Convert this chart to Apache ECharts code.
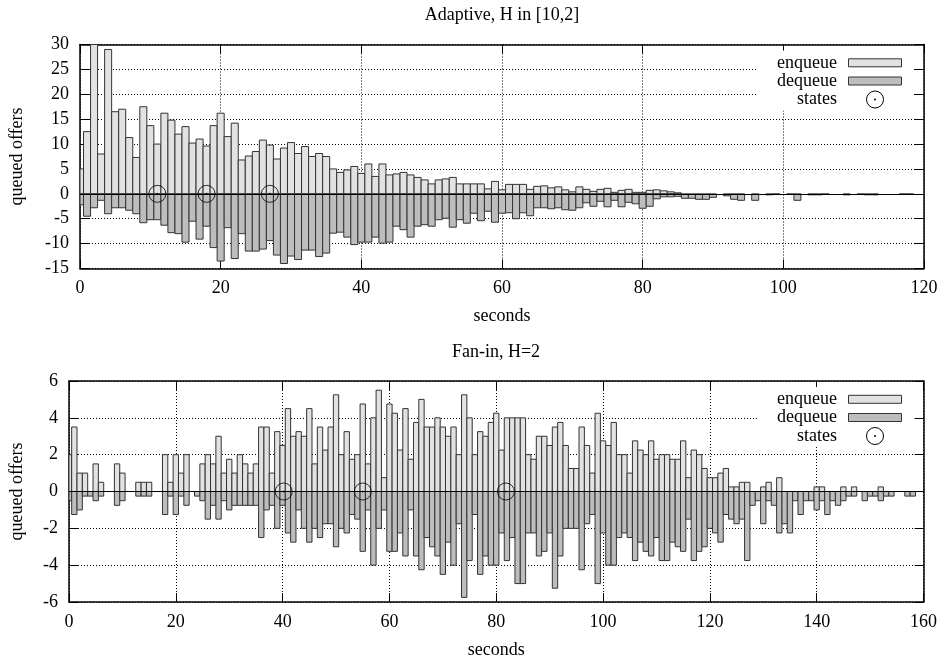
<!DOCTYPE html>
<html>
<head>
<meta charset="utf-8">
<script src="https://cdn.jsdelivr.net/npm/echarts@6/dist/echarts.min.js"></script>
<style>html,body{margin:0;padding:0;background:#fff}#c{width:942px;height:660px}</style>
</head>
<body>
<div id="c"></div>
<script>
// ---- Top chart: Adaptive, H in [10,2] (index = second) ----
const topEnqueue = [5.0,12.5,30,8.0,29.0,16.5,17.0,11.3,7.3,17.5,13.7,10.0,16.2,14.8,12.0,13.5,10.2,11.0,9.6,13.7,
  16.2,11.5,14.2,6.8,7.6,8.5,10.8,9.8,7.0,9.2,10.3,8.1,9.5,7.5,8.1,7.5,5.0,4.3,4.8,5.5,
  4.1,6.0,3.5,6.0,3.8,4.0,4.3,3.8,3.3,2.8,2.0,2.8,3.0,3.3,2.0,2.0,2.0,2.0,1.0,2.5,
  0.8,1.9,1.9,1.9,0.9,1.5,1.6,1.2,1.4,0.8,0.4,1.4,0.9,0.5,0.9,1.1,0.3,0.7,0.9,0.3,
  0.3,0.7,0.8,0.6,0.4,0.2];
const topDequeue = [-2.2,-4.5,-2.8,-1.3,-4.0,-2.8,-2.8,-3.3,-4.0,-5.8,-5.2,-5.2,-6.3,-7.8,-8.0,-9.7,-5.5,-9.1,-6.5,-10.8,
  -13.5,-6.8,-13.0,-8.0,-11.5,-11.5,-11.1,-9.4,-12.3,-14.0,-12.5,-13.2,-11.3,-11.3,-12.6,-11.9,-7.9,-7.7,-8.7,-10.2,
  -9.7,-9.7,-8.7,-9.9,-9.7,-6.5,-7.2,-8.7,-6.5,-6.2,-6.5,-5.2,-4.9,-6.7,-5.2,-5.9,-3.9,-5.4,-3.5,-5.7,
  -3.9,-3.8,-5.0,-3.8,-4.4,-2.8,-2.8,-3.0,-2.8,-3.2,-3.3,-2.8,-1.8,-2.5,-1.5,-2.6,-1.3,-2.6,-1.7,-2.0,
  -2.9,-2.5,-1.0,-0.6,-0.6,-0.5,-0.9,-0.9,-1.1,-1.1,-0.7,null,-0.4,-1.1,-1.3,null,-1.3,null,-0.2,-0.1,
  null,-0.1,-1.3,null,-0.2,-0.2,-0.1,null,null,-0.2,null,-0.1,-0.2,-0.2,null,null,null,-0.1,-0.1];
const topStates = [11, 18, 27];

// ---- Bottom chart: Fan-in, H=2 (index = second) ----
const botEnqueue = [2.0,3.5,1.0,1.0,null,1.5,0.5,null,null,1.5,1.0,null,null,0.5,0.5,0.5,null,null,2.0,0.5,
  2.0,1.0,2.0,null,0.0,1.5,2.0,1.5,3.0,1.0,1.75,1.0,2.0,1.5,1.0,1.5,3.5,3.5,1.0,3.25,
  2.5,4.5,3.0,3.25,3.0,4.5,1.5,3.5,2.25,3.5,5.25,2.0,3.25,1.75,2.0,4.75,1.5,4.0,5.5,0.75,
  4.75,4.25,2.25,4.5,1.75,3.75,5.0,3.5,3.5,4.0,3.5,3.0,3.5,2.0,5.25,4.0,2.0,3.25,3.0,3.75,
  4.25,2.25,4.0,4.0,4.0,4.0,2.0,1.75,3.0,3.0,2.5,3.5,3.75,2.5,1.25,1.25,3.5,2.5,1.0,4.25,
  2.75,2.5,3.75,2.0,2.0,1.0,2.75,2.25,2.0,2.75,1.75,2.0,2.0,1.75,1.75,2.75,0.75,2.25,2.0,1.25,
  0.75,0.75,1.0,1.25,0.25,0.25,0.5,0.5,null,null,0.25,0.5,null,0.75,null,null,null,null,null,null,
  0.25,0.25,null,null,null,0.25,null,0.25,null,null,null,null,0.25];
const botDequeue = [-0.5,-1.25,-1.0,-0.25,-0.25,-0.5,-0.25,null,null,-0.75,-0.5,null,null,-0.25,-0.25,-0.25,null,null,-1.25,-0.25,
  -1.25,-0.25,-0.75,null,-0.25,-0.5,-1.5,-0.75,-1.5,-0.5,-1.0,-0.75,-0.75,-0.75,-0.75,-0.75,-2.5,-1.0,-0.75,-2.0,
  -0.75,-2.25,-2.75,-1.0,-2.0,-2.75,-2.0,-2.5,-1.75,-1.75,-3.0,-2.0,-2.25,-1.25,-1.5,-3.25,-1.0,-4.0,-2.0,-1.0,
  -3.25,-3.25,-2.25,-3.5,-1.0,-3.5,-4.25,-2.5,-3.0,-3.5,-4.5,-2.75,-4.0,-1.75,-5.75,-3.75,-1.25,-4.5,-3.5,-4.0,
  -4.0,-2.25,-3.75,-2.5,-5.0,-5.0,-2.25,-2.25,-3.5,-3.25,-2.25,-5.25,-3.5,-2.0,-2.0,-2.0,-4.25,-1.75,-1.25,-5.0,
  -2.25,-4.0,-4.0,-2.5,-2.25,-2.5,-3.75,-2.75,-3.25,-3.5,-2.5,-3.75,-3.75,-2.75,-3.0,-3.25,-1.5,-3.75,-3.25,-3.0,
  -2.0,-2.25,-2.75,-1.25,-1.5,-1.75,-1.5,-3.75,-0.75,-0.5,-1.75,-0.5,-0.75,-2.25,-1.75,-2.25,-0.5,-1.25,-0.5,-0.5,
  -1.0,-0.5,-1.25,-0.5,-0.75,-0.5,-0.25,-0.25,null,-0.5,-0.25,-0.25,-0.5,-0.25,-0.25,null,null,-0.25,-0.25];
const botStates = [40.2, 55, 81.8];

const seriesNames = ['enqueue', 'dequeue', 'states'];
const titles = ['Adaptive, H in [10,2]', 'Fan-in, H=2'];
const xName = 'seconds';
const yName = 'queued offers';

// ---- helpers ----
const FONT = 'Liberation Serif, Times New Roman, serif';
const toPairs = arr => arr.map((v, i) => [i, v]).filter(p => p[1] !== null);
const txt = {fontFamily: FONT, fontSize: 18, color: '#000'};
const FILL_ENQ = '#e2e2e2', FILL_DEQ = '#bdbdbd', EDGE = '#333';

const G = [
  {left: 79.5, top: 44.5, width: 844.5, height: 224, xmax: 120, ymin: -15, ymax: 30, yint: 5, nameGap: 54},
  {left: 68.5, top: 381, width: 855, height: 224, xmax: 160, ymin: -6, ymax: 6, yint: 2, nameGap: 43}
];

// box of width 1 (one second) centred on x, from 0 to the value
function boxRenderer(fill) {
  return function (params, api) {
    const x = api.value(0), v = api.value(1);
    const a = api.coord([x - 0.5, 0]);
    const b = api.coord([x + 0.5, v]);
    const cs = params.coordSys;
    const r = echarts.graphic.clipRectByRect(
      {x: a[0], y: Math.min(a[1], b[1]), width: b[0] - a[0], height: Math.max(Math.abs(b[1] - a[1]), 0.01)},
      {x: cs.x, y: cs.y, width: cs.width, height: cs.height});
    if (!r) return null;
    return {type: 'rect', shape: r, style: {fill: fill, stroke: EDGE, lineWidth: 1}};
  };
}

const xAxes = [], yAxes = [], series = [], graphics = [];
const tick = {show: true, inside: true, length: 9, lineStyle: {color: '#000', width: 1}};
const frameLine = {show: true, onZero: false, lineStyle: {color: '#000', width: 1.5}};
const grid = {show: true, type: [1, 2], color: '#000', width: 1};

G.forEach((g, k) => {
  xAxes.push({gridIndex: k, type: 'value', min: 0, max: g.xmax, interval: 20, position: 'bottom',
    axisLine: frameLine, axisTick: tick,
    axisLabel: Object.assign({margin: 11}, txt),
    splitLine: {show: true, lineStyle: grid},
    name: xName, nameLocation: 'middle', nameGap: 39, nameTextStyle: txt});
  xAxes.push({gridIndex: k, type: 'value', min: 0, max: g.xmax, interval: 20, position: 'top',
    axisLine: frameLine, axisTick: tick, axisLabel: {show: false}, splitLine: {show: false}});
  yAxes.push({gridIndex: k, type: 'value', min: g.ymin, max: g.ymax, interval: g.yint, position: 'left',
    axisLine: frameLine, axisTick: tick,
    axisLabel: Object.assign({margin: 11}, txt),
    splitLine: {show: true, lineStyle: grid},
    name: yName, nameLocation: 'middle', nameGap: g.nameGap, nameRotate: 90, nameTextStyle: txt});
  yAxes.push({gridIndex: k, type: 'value', min: g.ymin, max: g.ymax, interval: g.yint, position: 'right',
    axisLine: frameLine, axisTick: tick, axisLabel: {show: false}, splitLine: {show: false}});

  const enq = k === 0 ? topEnqueue : botEnqueue;
  const deq = k === 0 ? topDequeue : botDequeue;
  const st = k === 0 ? topStates : botStates;
  const xi = k * 2, yi = k * 2;
  series.push({type: 'custom', name: seriesNames[0], xAxisIndex: xi, yAxisIndex: yi, z: 2,
    data: toPairs(enq), encode: {x: 0, y: 1}, renderItem: boxRenderer(FILL_ENQ),
    itemStyle: {color: FILL_ENQ}});
  series.push({type: 'custom', name: seriesNames[1], xAxisIndex: xi, yAxisIndex: yi, z: 2,
    data: toPairs(deq), encode: {x: 0, y: 1}, renderItem: boxRenderer(FILL_DEQ),
    itemStyle: {color: FILL_DEQ}});
  series.push({type: 'scatter', name: seriesNames[2], xAxisIndex: xi, yAxisIndex: yi, z: 5,
    data: st.map(x => [x, 0]), symbol: 'circle', symbolSize: 17,
    itemStyle: {color: 'rgba(0,0,0,0)', borderColor: '#000', borderWidth: 1},
    markLine: {silent: true, symbol: ['none', 'none'], label: {show: false},
      lineStyle: {color: '#000', width: 1, type: 'solid'}, data: [{yAxis: 0}]}});
  series.push({type: 'scatter', name: seriesNames[2] + '-dot', xAxisIndex: xi, yAxisIndex: yi, z: 6,
    data: st.map(x => [x, 0]), symbol: 'circle', symbolSize: 2, itemStyle: {color: '#000'}});

  // key box (legend)
  const t0 = g.top;
  const rows = [t0 + 18.3, t0 + 36.5, t0 + 55];
  graphics.push({type: 'rect', z: 100, shape: {x: 757, y: t0 + 6, width: 156, height: 60}, style: {fill: '#fff'}});
  rows.forEach((ry, i) => {
    graphics.push({type: 'text', z: 101, x: 837, y: ry,
      style: {text: seriesNames[i], fill: '#000', font: '18px ' + FONT, textAlign: 'right', textVerticalAlign: 'middle'}});
  });
  graphics.push({type: 'rect', z: 101, shape: {x: 848.5, y: rows[0] - 4, width: 53, height: 8},
    style: {fill: FILL_ENQ, stroke: EDGE, lineWidth: 1}});
  graphics.push({type: 'rect', z: 101, shape: {x: 848.5, y: rows[1] - 4, width: 53, height: 8},
    style: {fill: FILL_DEQ, stroke: EDGE, lineWidth: 1}});
  graphics.push({type: 'circle', z: 101, shape: {cx: 875, cy: rows[2], r: 8.5},
    style: {fill: 'none', stroke: '#000', lineWidth: 1}});
  graphics.push({type: 'circle', z: 101, shape: {cx: 875, cy: rows[2], r: 1},
    style: {fill: '#000'}});
});

const option = {
  animation: false,
  backgroundColor: '#fff',
  title: [
    {text: titles[0], left: 502, top: 6, textAlign: 'center', padding: 0,
      textStyle: {fontFamily: FONT, fontSize: 18, fontWeight: 'normal', color: '#000'}},
    {text: titles[1], left: 496, top: 343, textAlign: 'center', padding: 0,
      textStyle: {fontFamily: FONT, fontSize: 18, fontWeight: 'normal', color: '#000'}}
  ],
  grid: G.map(g => ({left: g.left, top: g.top, width: g.width, height: g.height, containLabel: false})),
  xAxis: xAxes,
  yAxis: yAxes,
  series: series,
  graphic: graphics
};

const chart = echarts.init(document.getElementById('c'), null, {renderer: 'canvas'});
chart.setOption(option);
</script>
</body>
</html>
